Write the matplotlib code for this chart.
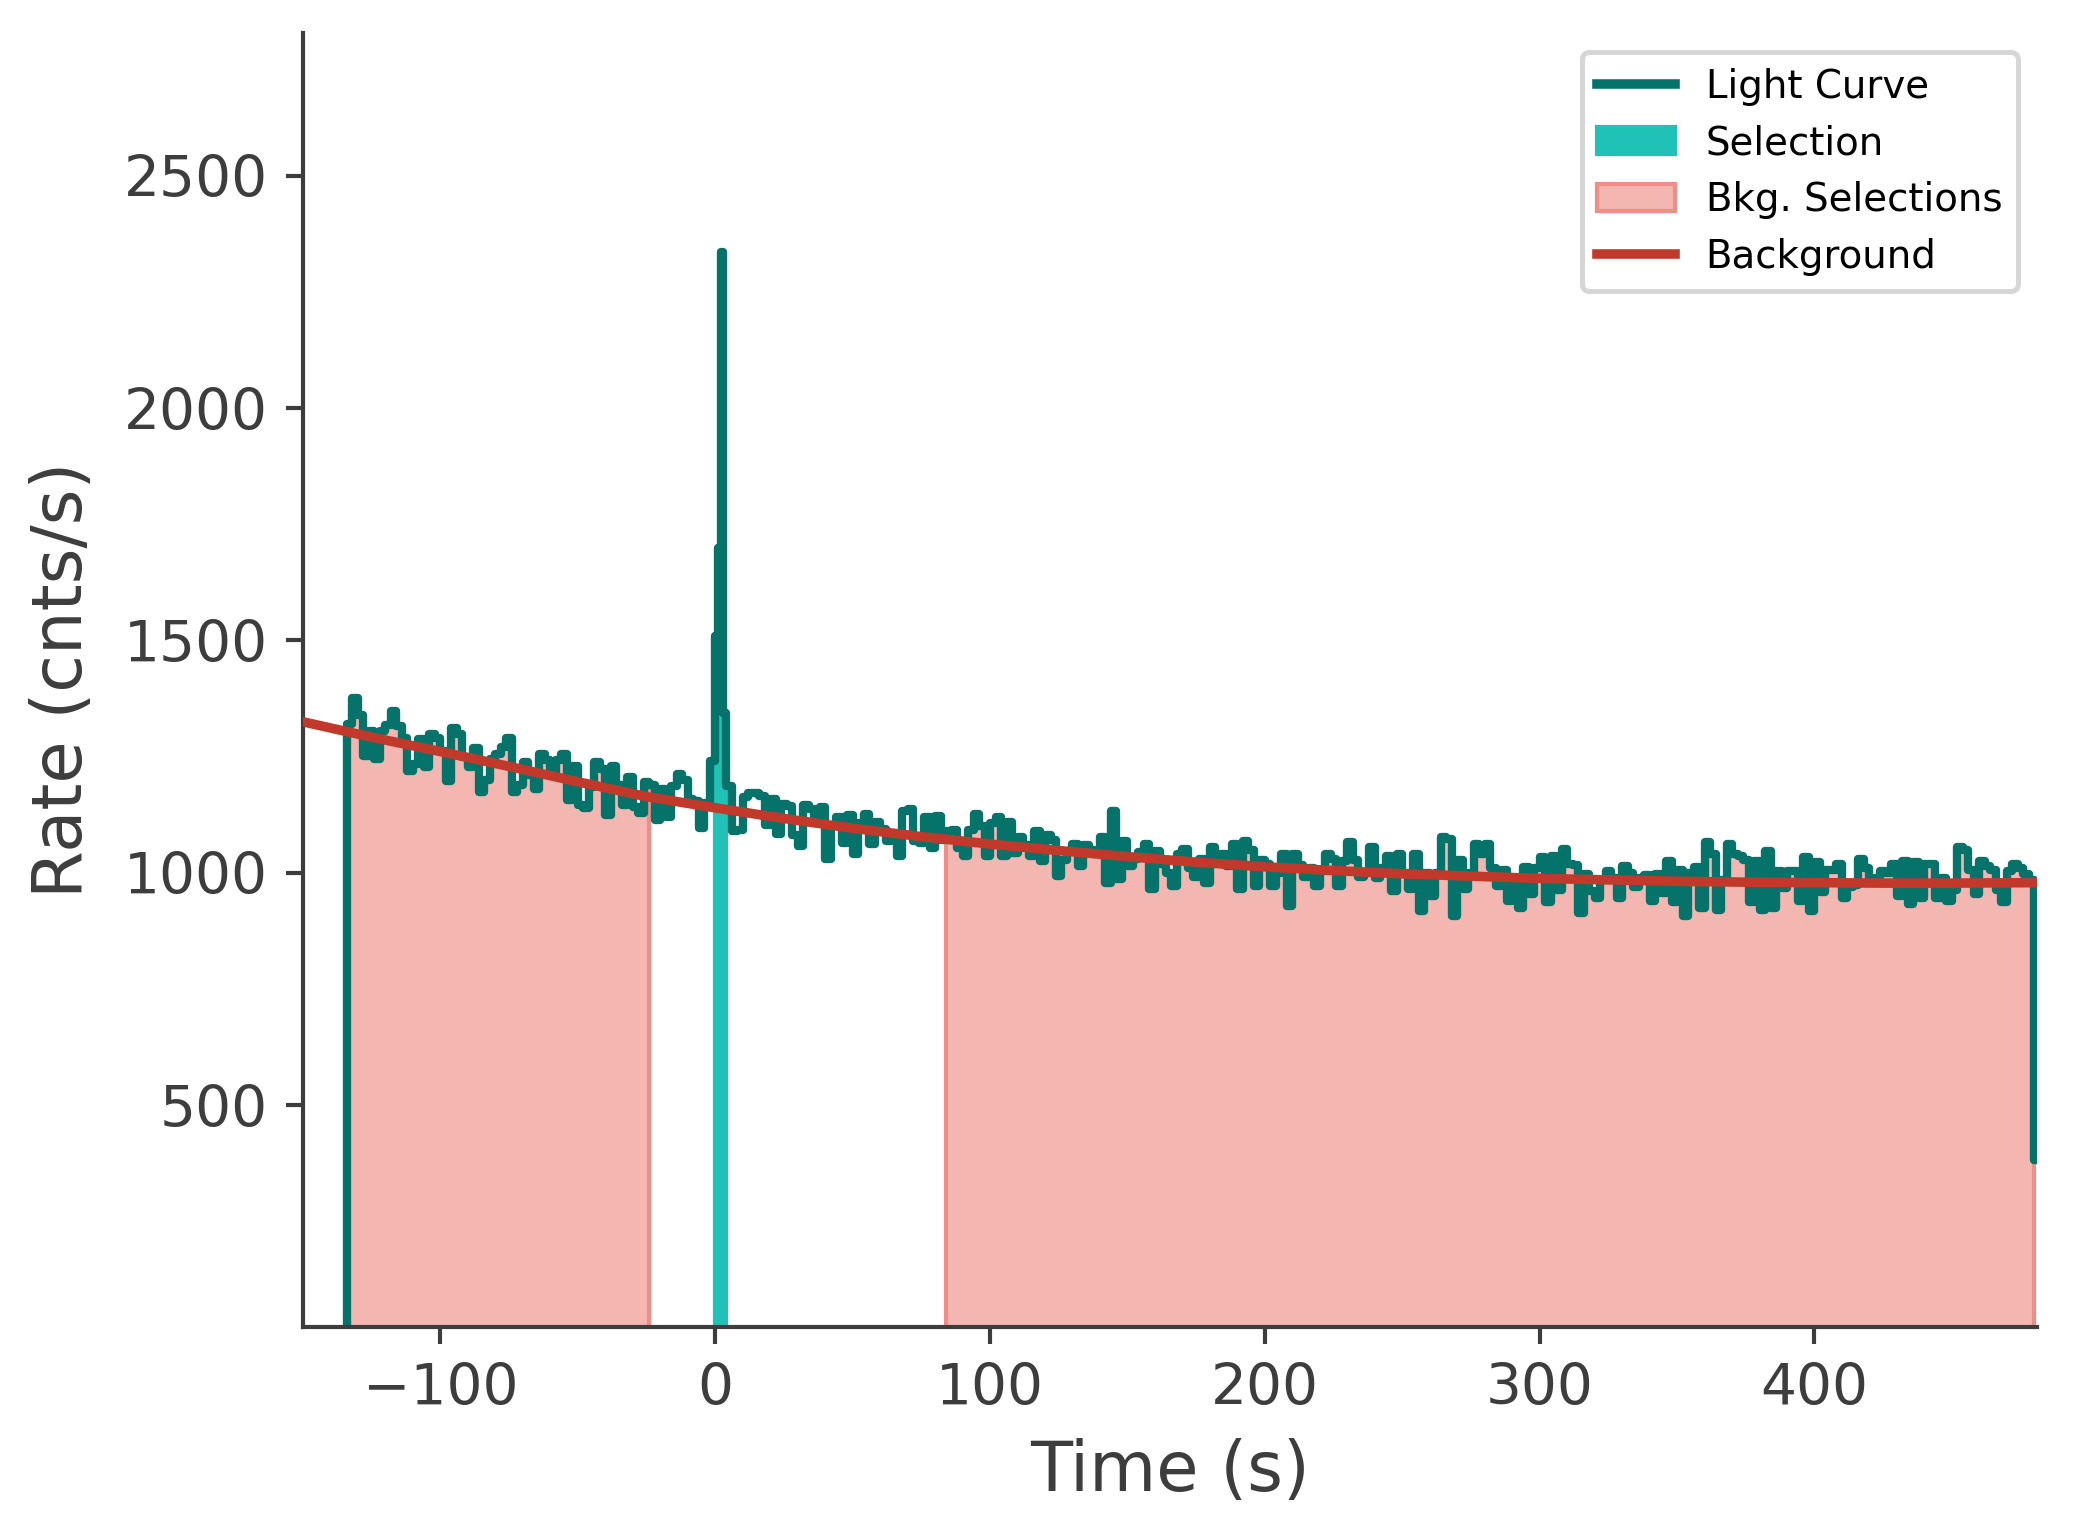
import numpy as np
import matplotlib
matplotlib.use("Agg")
import matplotlib.pyplot as plt
from matplotlib.lines import Line2D
from matplotlib.patches import Patch

# --- data (rates in counts/s) ---
# 2 s bins before the spike, ending at t = 0
rates_pre = [
    1320, 1377, 1340, 1252, 1306, 1245, 1306, 1318, 1349, 1316,
    1290, 1220, 1234, 1288, 1227, 1298, 1290, 1262, 1198, 1311,
    1298, 1250, 1227, 1268, 1173, 1200, 1245, 1255, 1270, 1290,
    1173, 1190, 1238, 1210, 1180, 1255, 1243, 1215, 1243, 1255,
    1157, 1230, 1145, 1140, 1185, 1238, 1223, 1125, 1230, 1190,
    1145, 1207, 1141, 1128, 1195, 1190, 1114, 1180, 1120, 1187,
    1213, 1200, 1159, 1155, 1097, 1150, 1240,
]
# 1 s bins over the spike, t = 0..4
spike_edges = [0, 1, 2, 3, 4]
rates_spike = [1510, 1700, 2335, 1344]
# 2 s bins after the spike, starting at t = 4
rates_post = [
    1188, 1090, 1093, 1163, 1171, 1171, 1165, 1102, 1160, 1083,
    1148, 1143, 1081, 1058, 1145, 1137, 1110, 1141, 1029, 1100,
    1120, 1065, 1125, 1040, 1107, 1127, 1062, 1110, 1095, 1068,
    1080, 1036, 1134, 1137, 1068, 1065, 1120, 1054, 1123, 1070,
    1091, 1092, 1054, 1036, 1092, 1127, 1100, 1036, 1107, 1120,
    1036, 1109, 1043, 1077, 1060, 1036, 1091, 1026, 1081, 1070,
    993, 1028, 1048, 1062, 1015, 1059, 1050, 1040, 1077, 979,
    1134, 986, 1069, 1015, 1030, 1046, 1062, 965, 1048, 1020,
    1000, 972, 1040, 1051, 1010, 992, 1030, 979, 1056, 1034,
    1040, 1015, 1062, 965, 1069, 1050, 972, 1028, 1020, 972,
    1000, 1041, 929, 1041, 1017, 992, 1010, 972, 1005, 1041,
    1030, 972, 1025, 1066, 1028, 992, 1000, 1055, 988, 1010,
    1037, 961, 1041, 1000, 965, 1041, 918, 1000, 950, 1000,
    1077, 1073, 907, 1028, 965, 1000, 1063, 1040, 1063, 1010,
    972, 1006, 940, 990, 925, 1012, 955, 1010, 1034, 937,
    1037, 963, 1051, 1020, 1017, 914, 998, 960, 945, 985,
    1005, 990, 945, 1015, 1000, 970, 990, 995, 940, 998,
    957, 1026, 937, 1006, 907, 1000, 1012, 925, 1066, 1040,
    920, 985, 1062, 1040, 1037, 1028, 937, 1026, 920, 1048,
    925, 1005, 967, 1005, 1005, 940, 1034, 918, 1024, 958,
    1006, 1006, 1019, 945, 970, 975, 1030, 1010, 985, 990,
    1005, 1000, 1019, 950, 1026, 932, 1024, 945, 1019, 1019,
    945, 990, 940, 963, 1055, 1050, 1006, 955, 1026, 1015,
    1006, 963, 937, 1003, 1020, 1010, 998, 985,
]
last_bin = (480, 482, 382)  # partial final bin

# background model sampled along time
bkg_t = [-150, -125, -100, -75, -50, -25, 0, 25, 50, 75, 100, 125, 150,
         175, 200, 225, 250, 275, 300, 325, 350, 375, 400, 425, 450, 481]
bkg_rate = [1325, 1292, 1261, 1229, 1196, 1164, 1140, 1117, 1096, 1078,
            1062, 1048, 1035, 1023, 1013, 1005, 998, 993, 988, 985, 982,
            980, 979, 978, 978, 979]

src_range = (0, 4)
bkg_ranges = [(-134, -24), (84, 480)]

# colours
c_lc = '#06736b'
c_src = '#20c1b6'
c_bkgsel = '#f4b6b1'
c_bkgsel_edge = '#ee8f87'
c_bkg = '#c0392b'
c_text = '#3d3d3d'

# --- build bin edges ---
pre_edges = -2.0 * np.arange(len(rates_pre), -1, -1)
post_edges = 4 + 2.0 * np.arange(len(rates_post) + 1)
edges = np.concatenate([[pre_edges[0] - 2], pre_edges, spike_edges[1:],
                        post_edges[1:], [last_bin[1]]])
rates = np.concatenate([[0], rates_pre, rates_spike, rates_post, [last_bin[2]]])

lo, hi = edges[:-1], edges[1:]

fig = plt.figure(figsize=(2074 / 300, 1540 / 300), dpi=300)
ax = fig.add_axes([0.1461, 0.1383, 0.8361, 0.8403])


def fill_range(a, b, **kw):
    m = (lo >= a - 1e-6) & (hi <= b + 1e-6)
    x = np.r_[lo[m], hi[m][-1]]
    y = np.r_[rates[m], rates[m][-1]]
    ax.fill_between(x, 0, y, step='post', **kw)


for a, b in bkg_ranges:
    fill_range(a, b, facecolor=c_bkgsel, edgecolor=c_bkgsel_edge,
               linewidth=1.0, zorder=1)
fill_range(*src_range, facecolor=c_src, edgecolor=c_src, linewidth=1.0, zorder=1)

xs = np.repeat(edges, 2)[1:-1]
ys = np.repeat(rates, 2)
ax.plot(xs, ys, color=c_lc, lw=2.0, zorder=2)
ax.plot(bkg_t, bkg_rate, color=c_bkg, lw=2.3, zorder=3)

ax.set_xlim(-150, 481)
ax.set_ylim(23, 2807)
ax.set_yticks([500, 1000, 1500, 2000, 2500])
ax.set_xticks([-100, 0, 100, 200, 300, 400])
ax.set_xticklabels(['\u2212100', '0', '100', '200', '300', '400'])

for s in ['top', 'right']:
    ax.spines[s].set_visible(False)
for s in ['left', 'bottom']:
    ax.spines[s].set_color(c_text)
    ax.spines[s].set_linewidth(1.0)
ax.tick_params(colors=c_text, labelsize=13.6, length=4, width=1.0, pad=4.5)
ax.set_xlabel('Time (s)', fontsize=16.5, color=c_text, labelpad=5)
ax.set_ylabel('Rate (cnts/s)', fontsize=16.5, color=c_text, labelpad=6.5)

handles = [
    Line2D([], [], color=c_lc, lw=2.3),
    Patch(facecolor=c_src, edgecolor=c_src),
    Patch(facecolor=c_bkgsel, edgecolor=c_bkgsel_edge, linewidth=1.0),
    Line2D([], [], color=c_bkg, lw=2.3),
]
labels = ['Light Curve', 'Selection', 'Bkg. Selections', 'Background']
leg = ax.legend(handles, labels, loc='upper right', fontsize=9.3,
                labelspacing=0.48, framealpha=1, edgecolor='#d6d6d6',
                borderaxespad=0.5)
leg.get_frame().set_linewidth(1.2)

fig.savefig('out.png', dpi=300)
